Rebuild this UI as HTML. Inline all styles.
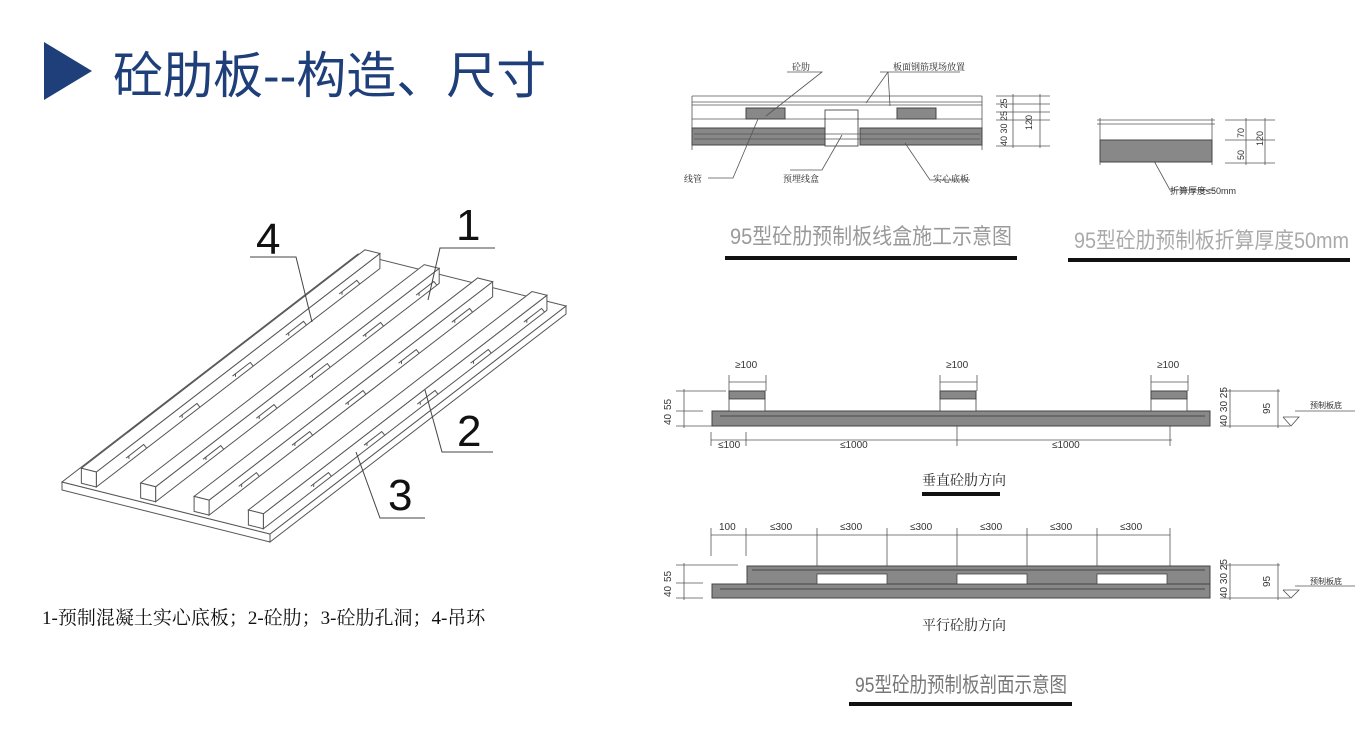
<!DOCTYPE html>
<html><head><meta charset="utf-8"><style>
html,body{margin:0;padding:0;background:#fff;}
body{width:1365px;height:738px;overflow:hidden;position:relative;font-family:"Liberation Sans","Noto Sans CJK SC",sans-serif;}
</style></head><body>
<svg id="s" width="1365" height="738" viewBox="0 0 1365 738" xmlns="http://www.w3.org/2000/svg" style="position:absolute;left:0;top:0">
<polygon points="44,42 44,100 92,71" fill="#1f3f7a"/>
<text x="113" y="93" font-size="50" fill="#1f3f7a" font-family="Liberation Sans,Noto Sans CJK SC,sans-serif">砼肋板--构造、尺寸</text>
<text x="42" y="624" font-size="19" fill="#111" font-family="Liberation Serif,Noto Serif CJK SC,serif">1-预制混凝土实心底板；2-砼肋；3-砼肋孔洞；4-吊环</text>
<g id="iso" stroke="#555" stroke-width="1" fill="#fff"></g>
<g font-family="Liberation Sans,sans-serif" font-size="44" fill="#111">
<text x="256" y="254">4</text><text x="456" y="240">1</text><text x="457" y="446">2</text><text x="388" y="510">3</text>
</g>
<g stroke="#444" stroke-width="1" fill="none">
<polyline points="250,257 296,257 312,322"/>
<polyline points="495,248 440,248 428,300"/>
<polyline points="493,452 442,452 425,390"/>
<polyline points="425,518 380,518 356,452"/>
</g>

<!-- top-left section -->
<g stroke="#555" stroke-width="0.8" fill="none">
<line x1="692" y1="96" x2="692" y2="150"/><line x1="982" y1="96" x2="982" y2="150"/>
<line x1="692" y1="96" x2="982" y2="96"/><line x1="692" y1="102" x2="982" y2="102"/><line x1="692" y1="105" x2="982" y2="105"/>
<line x1="692" y1="119" x2="982" y2="119"/>
<rect x="825" y="110" width="33" height="36" stroke="#333"/>
</g>
<rect x="692" y="128" width="133" height="17" fill="#888" stroke="#444"/>
<rect x="860" y="128" width="122" height="17" fill="#888" stroke="#444"/>
<rect x="746" y="108" width="39" height="11" fill="#888" stroke="#444"/>
<rect x="897" y="108" width="39" height="11" fill="#888" stroke="#444"/>
<g stroke="#555" stroke-width="0.8" fill="none">
<line x1="694" y1="134" x2="980" y2="134"/><line x1="694" y1="139" x2="980" y2="139"/>
<line x1="996" y1="96" x2="1050" y2="96"/><line x1="996" y1="104" x2="1050" y2="104"/><line x1="996" y1="112" x2="1050" y2="112"/><line x1="996" y1="120" x2="1050" y2="120"/><line x1="996" y1="146" x2="1050" y2="146"/>
<line x1="1013" y1="94" x2="1013" y2="148"/><line x1="1040" y1="94" x2="1040" y2="148"/>
<polyline points="708,178 733,178 758,119"/><polyline points="790,170 822,170 842,135"/>
<polyline points="970,180 930,180 905,143"/><polyline points="787,72 822,72 766,116"/>
<polyline points="880,72 960,72"/><line x1="888" y1="72" x2="866" y2="103"/><line x1="888" y1="72" x2="890" y2="106"/>
</g>
<g font-family="Noto Serif CJK SC,serif" font-size="9" fill="#222">
<text x="792" y="70">砼肋</text><text x="893" y="70">板面钢筋现场放置</text><text x="684" y="182">线管</text><text x="783" y="182">预埋线盒</text><text x="933" y="182">实心底板</text>
</g>
<g font-family="Liberation Sans Narrow,Liberation Sans,sans-serif" font-size="9" fill="#333">
<text transform="translate(1007,146) rotate(-90)">40 30 25 25</text>
<text transform="translate(1032,130) rotate(-90)">120</text>
</g>
<text x="730" y="244" font-size="22" fill="#999" textLength="282" lengthAdjust="spacingAndGlyphs" font-family="Liberation Sans,Noto Sans CJK SC,sans-serif">95型砼肋预制板线盒施工示意图</text>
<rect x="725" y="256" width="292" height="4" fill="#111"/>

<!-- top-right section -->
<g stroke="#555" stroke-width="0.8" fill="none">
<line x1="1097" y1="120" x2="1215" y2="120"/><line x1="1097" y1="124" x2="1215" y2="124"/>
<line x1="1100" y1="118" x2="1100" y2="165"/><line x1="1212" y1="118" x2="1212" y2="165"/>
<line x1="1225" y1="120" x2="1275" y2="120"/><line x1="1225" y1="140" x2="1275" y2="140"/><line x1="1225" y1="163" x2="1275" y2="163"/>
<line x1="1246" y1="118" x2="1246" y2="165"/><line x1="1265" y1="118" x2="1265" y2="165"/>
<polyline points="1148,150 1170,190 1215,190"/>
</g>
<rect x="1100" y="140" width="112" height="22" fill="#888" stroke="#444"/>
<g font-size="9" fill="#333" font-family="Liberation Sans,sans-serif">
<text transform="translate(1244,160) rotate(-90)">50</text><text transform="translate(1244,138) rotate(-90)">70</text><text transform="translate(1263,146) rotate(-90)">120</text>
<text x="1170" y="194" font-family="Liberation Sans,Noto Sans CJK SC,sans-serif">折算厚度≤50mm</text>
</g>
<text x="1074" y="248" font-size="22" fill="#aaa" textLength="275" lengthAdjust="spacingAndGlyphs" font-family="Liberation Sans,Noto Sans CJK SC,sans-serif">95型砼肋预制板折算厚度50mm</text>
<rect x="1068" y="258" width="282" height="4" fill="#111"/>

<!-- vertical rib -->
<g stroke="#555" stroke-width="0.8" fill="none">
<line x1="676" y1="391" x2="726" y2="391"/><line x1="676" y1="411" x2="703" y2="411"/><line x1="676" y1="426" x2="712" y2="426"/>
<line x1="684" y1="389" x2="684" y2="428"/>
<line x1="711" y1="440" x2="1172" y2="440"/>
<line x1="711" y1="432" x2="711" y2="446"/><line x1="746" y1="432" x2="746" y2="446"/><line x1="957" y1="426" x2="957" y2="446"/><line x1="1170" y1="426" x2="1170" y2="446"/>
<line x1="1220" y1="391" x2="1280" y2="391"/><line x1="1220" y1="426" x2="1290" y2="426"/><line x1="1230" y1="389" x2="1230" y2="428"/><line x1="1278" y1="389" x2="1278" y2="428"/>
<line x1="1295" y1="411" x2="1355" y2="411"/><polyline points="1283,417 1291,426 1299,417 1283,417"/>
</g>
<rect x="712" y="411" width="498" height="15" fill="#888" stroke="#444"/>
<line x1="720" y1="416" x2="1205" y2="416" stroke="#333" stroke-width="0.8"/>
<g fill="#888" stroke="#444">
<rect x="729" y="391" width="36" height="8"/><rect x="940" y="391" width="36" height="8"/><rect x="1151" y="391" width="36" height="8"/>
</g>
<g fill="#fff" stroke="#444" stroke-width="0.8">
<rect x="729" y="399" width="36" height="12"/><rect x="940" y="399" width="36" height="12"/><rect x="1151" y="399" width="36" height="12"/>
</g>
<g stroke="#555" stroke-width="0.8" fill="none">
<line x1="729" y1="382" x2="766" y2="382"/><line x1="729" y1="375" x2="729" y2="391"/><line x1="766" y1="375" x2="766" y2="391"/>
<line x1="940" y1="382" x2="977" y2="382"/><line x1="940" y1="375" x2="940" y2="391"/><line x1="977" y1="375" x2="977" y2="391"/>
<line x1="1151" y1="382" x2="1188" y2="382"/><line x1="1151" y1="375" x2="1151" y2="391"/><line x1="1188" y1="375" x2="1188" y2="391"/>
</g>
<g font-size="10" fill="#333" font-family="Liberation Sans,sans-serif">
<text x="735" y="368">≥100</text><text x="946" y="368">≥100</text><text x="1157" y="368">≥100</text>
<text x="718" y="448">≤100</text><text x="840" y="448">≤1000</text><text x="1052" y="448">≤1000</text>
<text transform="translate(671,410) rotate(-90)">55</text><text transform="translate(671,425) rotate(-90)">40</text>
<text transform="translate(1227,426) rotate(-90)">40 30 25</text><text transform="translate(1270,414) rotate(-90)">95</text>
<text x="1310" y="408" font-size="8" font-family="Noto Sans CJK SC,sans-serif">预制板底</text>
</g>
<text x="922" y="485" font-size="14" fill="#222" font-family="Noto Serif CJK SC,serif">垂直砼肋方向</text>
<rect x="922" y="492" width="78" height="4" fill="#111"/>

<!-- parallel -->
<g stroke="#555" stroke-width="0.8" fill="none">
<line x1="711" y1="535" x2="1170" y2="535"/>
<line x1="711" y1="528" x2="711" y2="556"/><line x1="746" y1="528" x2="746" y2="556"/><line x1="817" y1="528" x2="817" y2="566"/><line x1="887" y1="528" x2="887" y2="566"/><line x1="957" y1="528" x2="957" y2="566"/><line x1="1027" y1="528" x2="1027" y2="566"/><line x1="1097" y1="528" x2="1097" y2="566"/><line x1="1170" y1="528" x2="1170" y2="566"/>
<line x1="676" y1="565" x2="738" y2="565"/><line x1="676" y1="583" x2="703" y2="583"/><line x1="676" y1="598" x2="703" y2="598"/><line x1="684" y1="563" x2="684" y2="600"/>
<line x1="1220" y1="565" x2="1280" y2="565"/><line x1="1220" y1="598" x2="1290" y2="598"/><line x1="1230" y1="563" x2="1230" y2="600"/><line x1="1278" y1="563" x2="1278" y2="600"/>
<line x1="1295" y1="586" x2="1355" y2="586"/><polyline points="1283,590 1291,598 1299,590 1283,590"/>
</g>
<rect x="747" y="566" width="463" height="18" fill="#888" stroke="#444"/>
<rect x="712" y="584" width="498" height="14" fill="#888" stroke="#444"/>
<g fill="#fff" stroke="#444" stroke-width="0.8">
<rect x="817" y="574" width="70" height="10"/><rect x="957" y="574" width="70" height="10"/><rect x="1097" y="574" width="70" height="10"/>
</g>
<line x1="752" y1="570" x2="1205" y2="570" stroke="#333" stroke-width="0.8"/>
<line x1="720" y1="589" x2="1205" y2="589" stroke="#333" stroke-width="0.8"/>
<g font-size="10" fill="#333" font-family="Liberation Sans,sans-serif">
<text x="719" y="530">100</text><text x="770" y="530">≤300</text><text x="840" y="530">≤300</text><text x="910" y="530">≤300</text><text x="980" y="530">≤300</text><text x="1050" y="530">≤300</text><text x="1120" y="530">≤300</text>
<text transform="translate(671,582) rotate(-90)">55</text><text transform="translate(671,597) rotate(-90)">40</text>
<text transform="translate(1227,598) rotate(-90)">40 30 25</text><text transform="translate(1270,587) rotate(-90)">95</text>
<text x="1310" y="584" font-size="8" font-family="Noto Sans CJK SC,sans-serif">预制板底</text>
</g>
<text x="922" y="630" font-size="14" fill="#222" font-family="Noto Serif CJK SC,serif">平行砼肋方向</text>
<text x="855" y="692" font-size="21" fill="#777" textLength="212" lengthAdjust="spacingAndGlyphs" font-family="Liberation Sans,Noto Sans CJK SC,sans-serif">95型砼肋预制板剖面示意图</text>
<rect x="849" y="702" width="223" height="4" fill="#111"/>
</svg>
<script>
(function(){
var g=document.getElementById('iso'),A=[62,482],U=[208,52],V=[296,-228],T=8,H=15;
function P(s,v,dy){return [A[0]+U[0]*s+V[0]*v,A[1]+U[1]*s+V[1]*v-(dy||0)];}
function poly(pts,fill){var e=document.createElementNS('http://www.w3.org/2000/svg','polygon');e.setAttribute('points',pts.map(function(p){return p.join(',')}).join(' '));if(fill)e.setAttribute('fill',fill);g.appendChild(e);}
function pl(pts){var e=document.createElementNS('http://www.w3.org/2000/svg','polyline');e.setAttribute('points',pts.map(function(p){return p.join(',')}).join(' '));e.setAttribute('fill','none');g.appendChild(e);}
poly([P(0,0),P(1,0),P(1,0,-T),P(0,0,-T)]);
poly([P(1,0),P(1,1),P(1,1,-T),P(1,0,-T)]);
poly([P(0,0),P(1,0),P(1,1),P(0,1)]);
var ss=[0.076,0.361,0.618,0.879],w=0.072,v0=0.012,v1=0.97;
for(var i=ss.length-1;i>=0;i--){var s=ss[i];
 poly([P(s+w,v0),P(s+w,v1),P(s+w,v1,H),P(s+w,v0,H)]);
 poly([P(s,v0,H),P(s+w,v0,H),P(s+w,v1,H),P(s,v1,H)]);
 poly([P(s,v0),P(s+w,v0),P(s+w,v0,H),P(s,v0,H)]);
 for(var k=0;k<5;k++){var v=v0+0.1+k*0.18+(i%2)*0.06;
  pl([P(s+w,v,6),P(s+w,v+0.06,6),P(s+w,v+0.07,0)]);
  pl([P(s+w,v+0.01,6),P(s+w,v+0.01,3)]);}
}
})();
</script>
</body></html>
